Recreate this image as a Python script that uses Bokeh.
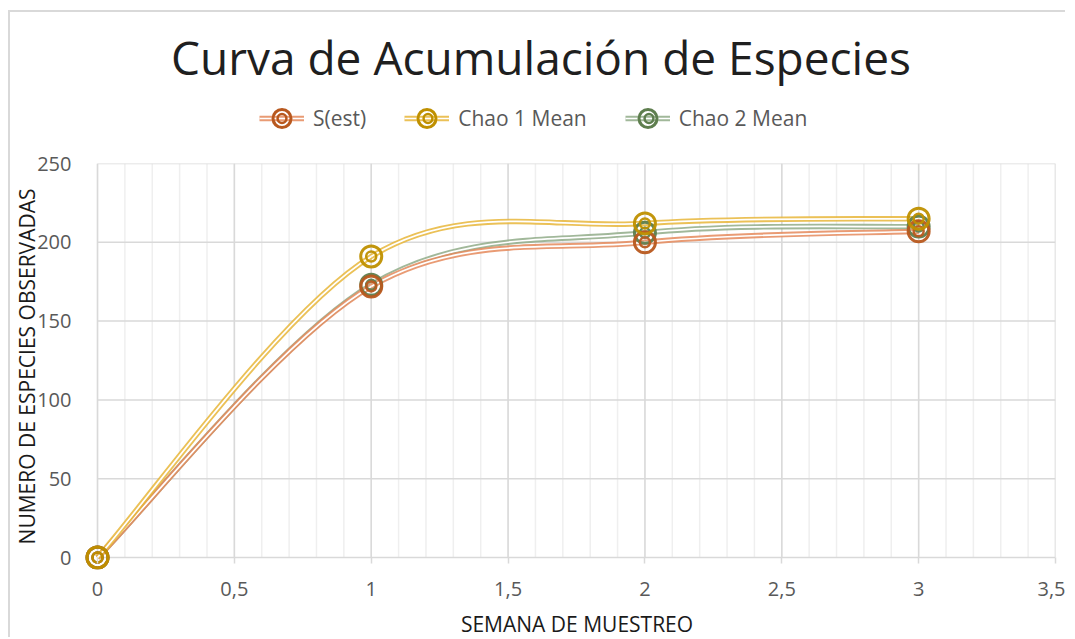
import numpy as np
from bokeh.plotting import figure
from bokeh.layouts import column
from bokeh.models import (Legend, LegendItem, Label, FixedTicker, Range1d,
                          ColumnDataSource)
from bokeh.embed import file_html
from bokeh.resources import INLINE

# ---------------- data ----------------
weeks = [0, 1, 2, 3]
s_est = [0, 172, 200, 207]
chao1 = [0, 191, 212, 215]
chao2 = [0, 173, 206, 210]
series_names = ["S(est)", "Chao 1 Mean", "Chao 2 Mean"]
x_ticks = [0, 0.5, 1, 1.5, 2, 2.5, 3, 3.5]
x_tick_labels = ["0", "0,5", "1", "1,5", "2", "2,5", "3", "3,5"]
x_minor_ticks = [round(k * 0.1, 1) for k in range(0, 36)]
y_ticks = [0, 50, 100, 150, 200, 250]

line_colors = ["#E58A5C", "#E8B63A", "#90AC88"]
marker_colors = ["#B8581E", "#BF9000", "#5E7E4E"]

FONT = "Open Sans"
TITLE = "Curva de Acumulación de Especies"
X_TITLE = "SEMANA DE MUESTREO"
Y_TITLE = "NUMERO DE ESPECIES OBSERVADAS"

W = 1057
BL, BR = 72, 12          # frame borders shared by the three stacked panels
FRAME_W = W - 2 - BL - BR
LEGEND_GLYPH_X = [176, 322, 543]   # where each legend entry's symbol starts


def bezier_source(xs, ys):
    """Excel-like smoothing: cubic Bezier segments between data points."""
    x = np.asarray(xs, float)
    y = np.asarray(ys, float)
    n = len(x)
    xp = np.concatenate([[x[0]], x, [x[-1]]])
    yp = np.concatenate([[y[0]], y, [y[-1]]])
    i = np.arange(n - 1)
    return ColumnDataSource(dict(
        x0=x[:-1], y0=y[:-1], x1=x[1:], y1=y[1:],
        cx0=x[i] + (xp[i + 2] - xp[i]) / 6.0,
        cy0=y[i] + (yp[i + 2] - yp[i]) / 6.0,
        cx1=x[i + 1] - (xp[i + 3] - xp[i + 1]) / 6.0,
        cy1=y[i + 1] - (yp[i + 3] - yp[i + 1]) / 6.0,
    ))


all_series = [s_est, chao1, chao2]

# ---------------- header (title + legend) ----------------
TOP_H = 141
TOP_IN = TOP_H - 2
top = figure(width=W, height=TOP_H, output_backend="svg", toolbar_location=None,
             x_range=Range1d(0, FRAME_W), y_range=Range1d(0, TOP_IN),
             x_axis_type=None, y_axis_type=None,
             min_border_left=BL, min_border_right=BR, min_border_top=0,
             min_border_bottom=0,
             styles={"border-top": "2px solid #D9D9D9",
                     "border-left": "2px solid #D9D9D9"})
top.outline_line_color = None
top.border_fill_color = "white"

top.add_layout(Label(x=457, y=95, text=TITLE, text_font=FONT,
                     text_font_size="46px", text_color="#1F1F1F",
                     text_align="center", text_baseline="middle"))

items_outer = []
for idx, name in enumerate(series_names):
    ys = all_series[idx]
    r1 = top.line(weeks, ys, line_color=line_colors[idx], line_width=5.5,
                  line_alpha=0.85, visible=False)
    r2 = top.line(weeks, ys, line_color="white", line_width=1.7, visible=False)
    r3 = top.scatter(weeks, ys, marker="circle", size=21, fill_color=None,
                     line_color=marker_colors[idx], line_width=3, visible=False)
    r4 = top.scatter(weeks, ys, marker="circle", size=10, fill_color=None,
                     line_color=marker_colors[idx], line_width=2.5, visible=False)
    items_outer.append(LegendItem(label=name, renderers=[r1, r2, r3]))
    # inner ring of the legend symbol (a label-less legend of one entry)
    top.add_layout(Legend(items=[LegendItem(label="", renderers=[r4])],
                          location=(LEGEND_GLYPH_X[idx], 24), glyph_width=45,
                          glyph_height=22, label_standoff=0, label_width=0,
                          padding=0, margin=0, border_line_color=None,
                          background_fill_alpha=0), "center")

legend_outer = Legend(items=items_outer, location=(LEGEND_GLYPH_X[0], 10),
                      orientation="horizontal", glyph_width=45, glyph_height=50,
                      label_standoff=9, spacing=38, padding=0, margin=0,
                      border_line_color=None, background_fill_alpha=0,
                      label_text_font=FONT, label_text_font_size="21px",
                      label_text_color="#595959")
top.renderers  # keep order: outer legend under the inner rings
top.center.insert(0, legend_outer)

# ---------------- main chart ----------------
MAIN_H = 455
p = figure(width=W, height=MAIN_H, output_backend="svg", toolbar_location=None,
           x_range=Range1d(-0.0512, 3.5), y_range=Range1d(-7.614, 250),
           min_border_left=BL, min_border_right=BR, min_border_top=12,
           min_border_bottom=37,
           styles={"border-left": "2px solid #D9D9D9"})
p.outline_line_color = None
p.background_fill_color = "white"
p.border_fill_color = "white"
p.xgrid.visible = False
p.ygrid.visible = False

# grid lines drawn from the tick lists (limited to the 0..3.5 / 0..250 box)
nm = len(x_minor_ticks)
p.segment(x0=x_minor_ticks, y0=[y_ticks[0]] * nm, x1=x_minor_ticks,
          y1=[y_ticks[-1]] * nm, line_color="#EFEFEF", line_width=1.5)
nM = len(x_ticks)
p.segment(x0=x_ticks, y0=[y_ticks[0]] * nM, x1=x_ticks, y1=[y_ticks[-1]] * nM,
          line_color="#D9D9D9", line_width=1.5)
nY = len(y_ticks)
p.segment(x0=[x_ticks[0]] * nY, y0=y_ticks, x1=[x_ticks[-1]] * nY, y1=y_ticks,
          line_color="#D9D9D9", line_width=1.5)

# x axis (its line is the grid line at y=0; ticks hang 6px below it)
xa = p.xaxis[0]
xa.ticker = FixedTicker(ticks=x_ticks)
xa.major_label_overrides = {t: l for t, l in zip(x_ticks, x_tick_labels)}
xa.axis_line_color = None
xa.major_tick_line_color = "#D9D9D9"
xa.major_tick_line_width = 1.5
xa.major_tick_in = 12
xa.major_tick_out = -6
xa.minor_tick_line_color = None
xa.major_label_standoff = 12
xa.major_label_text_font = FONT
xa.major_label_text_font_size = "20px"
xa.major_label_text_color = "#595959"

# y axis
ya = p.yaxis[0]
ya.ticker = FixedTicker(ticks=y_ticks)
ya.bounds = (y_ticks[0], y_ticks[-1])
ya.axis_line_color = None
ya.major_tick_line_color = None
ya.minor_tick_line_color = None
ya.major_tick_out = 0
ya.major_tick_in = 0
ya.major_label_standoff = 12
ya.major_label_text_font = FONT
ya.major_label_text_font_size = "20px"
ya.major_label_text_color = "#595959"
ya.axis_label = Y_TITLE
ya.axis_label_text_font = FONT
ya.axis_label_text_font_size = "21px"
ya.axis_label_text_font_style = "normal"
ya.axis_label_text_color = "#1A1A1A"
ya.axis_label_standoff = -7

# series
for idx in [2, 0, 1]:
    src = bezier_source(weeks, all_series[idx])
    p.bezier(x0="x0", y0="y0", x1="x1", y1="y1", cx0="cx0", cy0="cy0",
             cx1="cx1", cy1="cy1", source=src, line_color=line_colors[idx],
             line_width=5.5, line_alpha=0.85)
    p.bezier(x0="x0", y0="y0", x1="x1", y1="y1", cx0="cx0", cy0="cy0",
             cx1="cx1", cy1="cy1", source=src, line_color="white",
             line_width=1.7)

for idx in [2, 0, 1]:
    ys = all_series[idx]
    p.scatter(weeks, ys, marker="circle", size=21, fill_color=None,
              line_color=marker_colors[idx], line_width=3, line_alpha=0.95)
    p.scatter(weeks, ys, marker="circle", size=10, fill_color=None,
              line_color=marker_colors[idx], line_width=2.5, line_alpha=0.95)

# ---------------- footer (x axis title) ----------------
BOT_H = 31
bot = figure(width=W, height=BOT_H, output_backend="svg", toolbar_location=None,
             x_range=Range1d(0, FRAME_W), y_range=Range1d(0, BOT_H),
             x_axis_type=None, y_axis_type=None,
             min_border_left=BL, min_border_right=BR, min_border_top=0,
             min_border_bottom=0,
             styles={"border-left": "2px solid #D9D9D9"})
bot.outline_line_color = None
bot.border_fill_color = "white"
bot.add_layout(Label(x=493, y=14, text=X_TITLE, text_font=FONT,
                     text_font_size="21px", text_color="#1A1A1A",
                     text_align="center", text_baseline="middle"))

layout = column(top, p, bot, spacing=0,
                styles={"margin-left": "8px", "margin-top": "10px"})

open("out.html", "w").write(file_html(layout, INLINE))
